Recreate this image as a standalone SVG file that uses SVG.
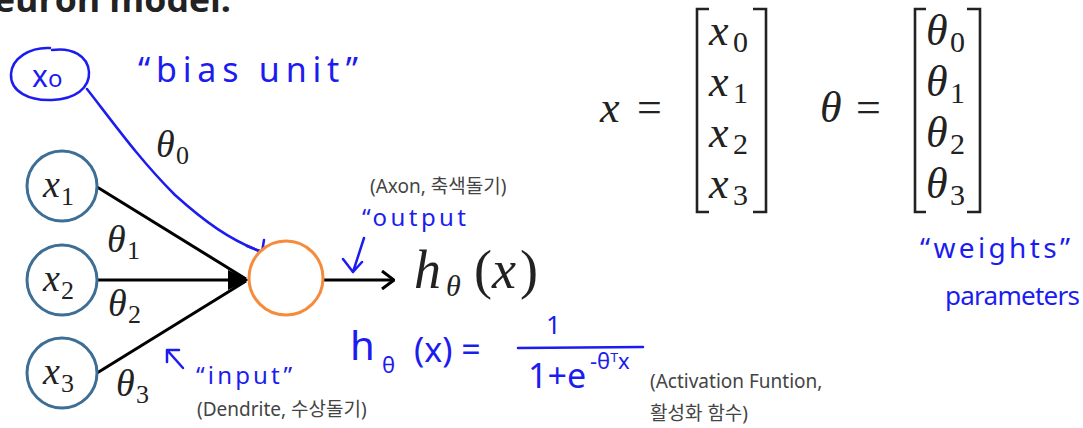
<svg xmlns="http://www.w3.org/2000/svg" width="1083" height="428" viewBox="0 0 1083 428">
<style>
.m{font-family:"Liberation Serif",serif;font-style:italic;fill:#222}
.d{font-family:"Liberation Serif",serif;font-style:normal;fill:#222}
.hw{font-family:"Noto Sans","DejaVu Sans",sans-serif;fill:#1c1cf0}
.kr{font-family:"Noto Sans","Noto Sans CJK KR",sans-serif;fill:#444;font-size:19px}
.in{fill:#fff;stroke:#3d6e96;stroke-width:3}
.blue{fill:none;stroke:#1c1cf0;stroke-width:2.5;stroke-linecap:round;stroke-linejoin:round}
.br{fill:none;stroke:#222;stroke-width:2.6}
</style>
<defs>
<marker id="open" markerWidth="14" markerHeight="20" refX="13" refY="10" orient="auto" markerUnits="userSpaceOnUse" viewBox="0 0 14 20"><path d="M1,1 L13,10 L1,19" fill="none" stroke="#000" stroke-width="3"/></marker>
</defs>
<text x="-6" y="12" font-family="'Open Sans','Liberation Sans',sans-serif" font-weight="bold" font-size="34" fill="#222" textLength="237" lengthAdjust="spacingAndGlyphs">euron model.</text>

<g id="connectors">
<line x1="97" y1="187" x2="246" y2="279" stroke="#000" stroke-width="3"/>
<line x1="97" y1="373" x2="246" y2="281" stroke="#000" stroke-width="3"/>
<line x1="97" y1="280" x2="240" y2="280" stroke="#000" stroke-width="3"/>
<path d="M228,270 L249,280 L228,290 z" fill="#000"/>
<line x1="324" y1="280" x2="394" y2="280" stroke="#000" stroke-width="3" marker-end="url(#open)"/>
<path class="blue" d="M87,89 C115,125 140,160 175,195 C205,222 230,240 262,252"/>
<path class="blue" d="M247,246 L262,252 L264,240"/>
</g>

<g id="x0">
<path class="blue" d="M50,48 C30,47 12,58 11,74 C10,92 30,101 52,100 C75,99 90,88 89,72 C88,56 72,47 52,50"/>
<text class="hw" x="32" y="87" font-size="30">x<tspan font-size="24">o</tspan></text>
</g>
<text class="hw" x="138" y="82" font-size="34" textLength="220" lengthAdjust="spacing">“bias unit”</text>

<g id="x1">
<circle class="in" cx="62" cy="186" r="35"/>
<text class="m" x="43" y="197" font-size="38">x</text><text class="d" x="61" y="205" font-size="26">1</text>
</g>
<g id="x2">
<circle class="in" cx="62" cy="280" r="35"/>
<text class="m" x="43" y="291" font-size="38">x</text><text class="d" x="61" y="299" font-size="26">2</text>
</g>
<g id="x3">
<circle class="in" cx="62" cy="373" r="35"/>
<text class="m" x="43" y="384" font-size="38">x</text><text class="d" x="61" y="392" font-size="26">3</text>
</g>
<g id="neuron">
<circle cx="286" cy="278" r="37" fill="#fff" stroke="#f68b3b" stroke-width="3"/>
</g>

<g id="weights">
<text class="m" x="156" y="157" font-size="38">θ</text><text class="d" x="176" y="164" font-size="26">0</text>
<text class="m" x="107" y="252" font-size="38">θ</text><text class="d" x="127" y="259" font-size="26">1</text>
<text class="m" x="108" y="316" font-size="38">θ</text><text class="d" x="128" y="323" font-size="26">2</text>
<text class="m" x="116" y="396" font-size="38">θ</text><text class="d" x="136" y="403" font-size="26">3</text>
</g>

<g id="output">
<text class="m" x="414" y="288" font-size="54">h</text>
<text class="m" x="446" y="296" font-size="30">θ</text>
<text class="d" x="474" y="288" font-size="54">(</text>
<text class="m" x="492" y="288" font-size="54">x</text>
<text class="d" x="520" y="288" font-size="54">)</text>
</g>

<text class="kr" x="370" y="193" font-size="18">(Axon, 축색돌기)</text>
<text class="hw" x="362" y="226" font-size="24" textLength="104" lengthAdjust="spacing">“output</text>
<path class="blue" d="M364,238 L353,272 M343,259 L353,272 L362,262"/>

<g id="formula">
<text class="hw" x="350" y="360" font-size="40">h</text>
<text class="hw" x="382" y="373" font-size="22">θ</text>
<text class="hw" x="414" y="362" font-size="34">(x) =</text>
<text class="hw" x="546" y="334" font-size="26">1</text>
<line class="blue" x1="518" y1="348" x2="643" y2="347"/>
<text class="hw" x="528" y="388" font-size="34">1+e</text>
<text class="hw" x="590" y="369" font-size="22">-θᵀx</text>
</g>
<text class="kr" x="650" y="388">(Activation Funtion,</text>
<text class="kr" x="650" y="420">활성화 함수)</text>

<path class="blue" d="M167,350 L183,368 M167,350 L167,362 M167,350 L179,350"/>
<text class="hw" x="196" y="384" font-size="24" textLength="96" lengthAdjust="spacing">“input”</text>
<text class="kr" x="197" y="416">(Dendrite, 수상돌기)</text>

<g id="vectors">
<text class="m" x="600" y="122" font-size="44">x</text>
<text class="d" x="637" y="122" font-size="44">=</text>
<path class="br" d="M709,9 L697,9 L697,212 L709,212"/>
<path class="br" d="M753,9 L766,9 L766,212 L753,212"/>
<text class="m" x="709" y="45" font-size="44">x</text><text class="d" x="733" y="52" font-size="30">0</text>
<text class="m" x="709" y="96" font-size="44">x</text><text class="d" x="733" y="103" font-size="30">1</text>
<text class="m" x="709" y="147" font-size="44">x</text><text class="d" x="733" y="154" font-size="30">2</text>
<text class="m" x="709" y="198" font-size="44">x</text><text class="d" x="733" y="205" font-size="30">3</text>

<text class="m" x="820" y="122" font-size="44">θ</text>
<text class="d" x="856" y="122" font-size="44">=</text>
<path class="br" d="M926,9 L915,9 L915,212 L926,212"/>
<path class="br" d="M967,9 L980,9 L980,212 L967,212"/>
<text class="m" x="926" y="45" font-size="44">θ</text><text class="d" x="950" y="52" font-size="30">0</text>
<text class="m" x="926" y="96" font-size="44">θ</text><text class="d" x="950" y="103" font-size="30">1</text>
<text class="m" x="926" y="147" font-size="44">θ</text><text class="d" x="950" y="154" font-size="30">2</text>
<text class="m" x="926" y="198" font-size="44">θ</text><text class="d" x="950" y="205" font-size="30">3</text>
</g>
<text class="hw" x="920" y="258" font-size="28" textLength="150" lengthAdjust="spacing">“weights”</text>
<text class="hw" x="945" y="305" font-size="26" textLength="135" lengthAdjust="spacing">parameters</text>
</svg>
